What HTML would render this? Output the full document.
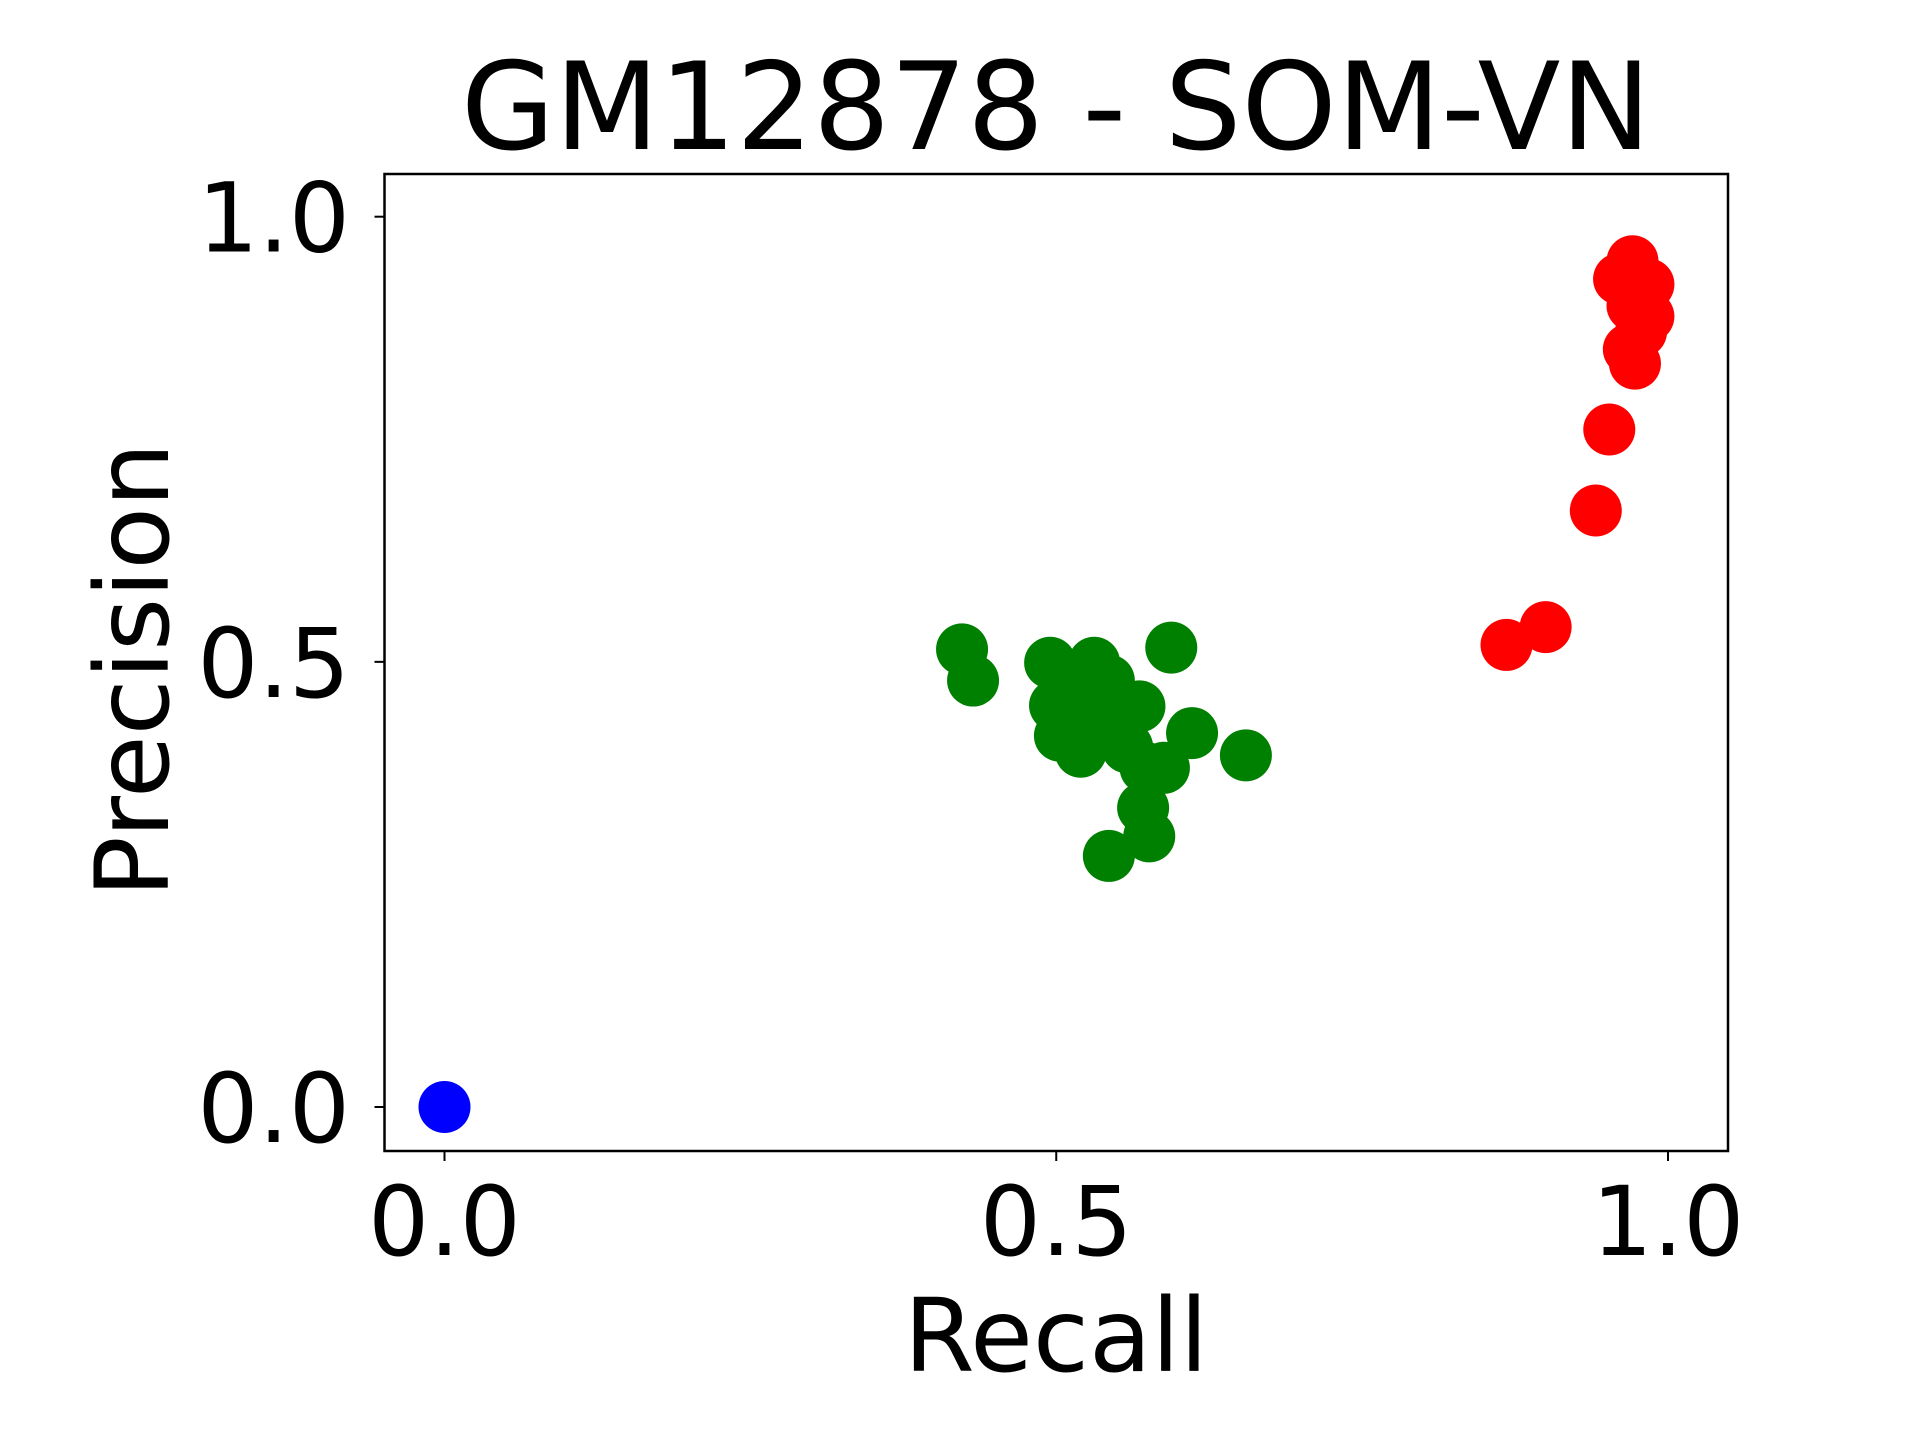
<!DOCTYPE html>
<html><head><meta charset="utf-8"><style>
html,body{margin:0;padding:0;background:#fff;width:1920px;height:1440px;overflow:hidden}
svg text{font-family:"DejaVu Sans","Liberation Sans",sans-serif;fill:#000}
</style></head><body>
<svg id="chart" width="1920" height="1440" viewBox="0 0 1920 1440" xmlns="http://www.w3.org/2000/svg">
<text x="1056" y="149" font-size="121" text-anchor="middle">GM12878 - SOM-VN</text>
<text x="1056" y="1371" font-size="102" text-anchor="middle">Recall</text>
<text x="0" y="0" font-size="102" text-anchor="middle" transform="translate(168,670) rotate(-90)">Precision</text>
<g id="points"></g>
<g id="axes"></g>
<rect x="384.5" y="174" width="1343.5" height="977" fill="none" stroke="#000" stroke-width="2.5"/>
</svg>
<script>
const blueX=[0.0];
const blueY=[0.0];
const greenX=[0.423,0.432,0.495,0.531,0.543,0.516,0.499,0.527,0.568,0.503,0.520,0.548,0.558,0.588,0.573,0.594,0.611,0.655,0.571,0.576,0.543,0.525,0.51];
const greenY=[0.514,0.479,0.499,0.499,0.479,0.474,0.451,0.454,0.450,0.417,0.399,0.432,0.404,0.381,0.381,0.516,0.420,0.395,0.336,0.304,0.282,0.47,0.44];
const redX=[0.868,0.900,0.941,0.952,0.971,0.960,0.984,0.971,0.984,0.978,0.968,0.973];
const redY=[0.519,0.539,0.670,0.761,0.950,0.930,0.924,0.900,0.888,0.871,0.851,0.835];
const xTicks=[0.0,0.5,1.0];
const yTicks=[0.0,0.5,1.0];
const xTickLabels=["0.0","0.5","1.0"];
const yTickLabels=["0.0","0.5","1.0"];
const NS="http://www.w3.org/2000/svg";
function sx(v){return 444.5+v*(1668-444.5);}
function sy(v){return 1107-v*(1107-216.7);}
const pts=document.getElementById('points');
function draw(xs,ys,color,name){
  for(let i=0;i<xs.length;i++){
    const c=document.createElementNS(NS,'circle');
    c.setAttribute('cx',sx(xs[i]));c.setAttribute('cy',sy(ys[i]));
    c.setAttribute('r',26);c.setAttribute('fill',color);
    
    
    pts.appendChild(c);
  }
}
draw(blueX,blueY,'#0000ff','blue-point');
draw(greenX,greenY,'#008000','green-point');
draw(redX,redY,'#ff0000','red-point');
const ax=document.getElementById('axes');
xTicks.forEach((t,i)=>{
  const l=document.createElementNS(NS,'line');
  l.setAttribute('x1',sx(t));l.setAttribute('x2',sx(t));l.setAttribute('y1',1151);l.setAttribute('y2',1161);
  l.setAttribute('stroke','#000');l.setAttribute('stroke-width','2');
  
  
  ax.appendChild(l);
  const tx=document.createElementNS(NS,'text');
  tx.setAttribute('x',sx(t));tx.setAttribute('y',1255);tx.setAttribute('font-size','96');tx.setAttribute('text-anchor','middle');
  tx.textContent=xTickLabels[i];
  
  
  ax.appendChild(tx);
});
yTicks.forEach((t,i)=>{
  const l=document.createElementNS(NS,'line');
  l.setAttribute('x1',374.5);l.setAttribute('x2',384.5);l.setAttribute('y1',sy(t));l.setAttribute('y2',sy(t));
  l.setAttribute('stroke','#000');l.setAttribute('stroke-width','2');
  
  
  ax.appendChild(l);
  const tx=document.createElementNS(NS,'text');
  tx.setAttribute('x',350);tx.setAttribute('y',sy(t)+35);tx.setAttribute('font-size','96');tx.setAttribute('text-anchor','end');
  tx.textContent=yTickLabels[i];
  
  
  ax.appendChild(tx);
});
</script>
</body></html>
